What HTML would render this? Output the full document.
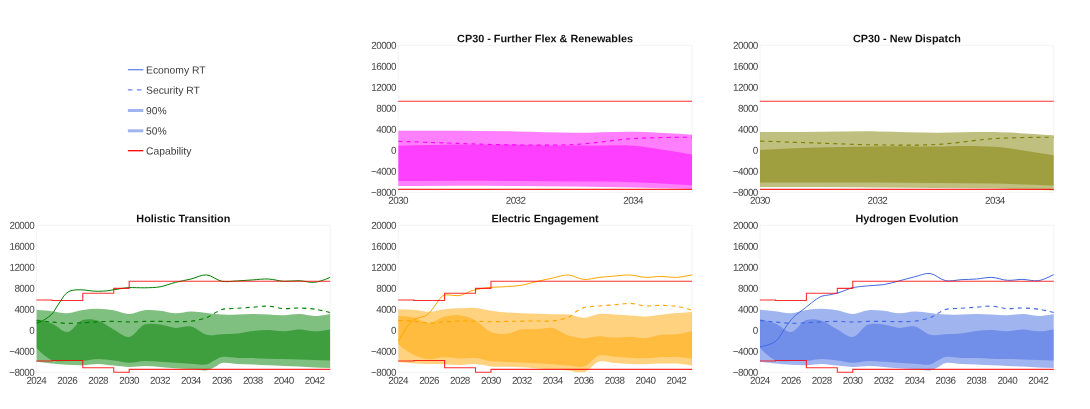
<!DOCTYPE html>
<html lang="en">
<head>
<meta charset="utf-8">
<title>Capability charts</title>
<style>
html,body{margin:0;padding:0;background:#fff;}
body{width:1090px;height:409px;overflow:hidden;}
svg{display:block;font-family:"Liberation Sans", Arial, sans-serif;}
.tk{letter-spacing:-0.55px;}
</style>
</head>
<body>

<svg width="1090" height="409" viewBox="0 0 1090 409">
<rect width="1090" height="409" fill="#fff"/>
<g class="legend">
<path d="M127.9,69.7H143.3" stroke="rgb(65,105,225)" stroke-opacity="0.8" stroke-width="1.3" fill="none"/>
<path d="M127.9,89.9H143.3" stroke="rgb(65,105,225)" stroke-opacity="0.8" stroke-width="1.3" stroke-dasharray="4.6,4.4" fill="none"/>
<path d="M127.9,110.5H143.3" stroke="rgb(65,105,225)" stroke-opacity="0.5" stroke-width="3" fill="none"/>
<path d="M127.9,130.8H143.3" stroke="rgb(65,105,225)" stroke-opacity="0.5" stroke-width="3" fill="none"/>
<path d="M127.9,150.7H143.3" stroke="#ff0000" stroke-width="1.3" fill="none"/>
<text x="146" y="73.45" transform="rotate(0.03 146 73.45)" font-size="10.35" fill="#3c3c3c">Economy RT</text>
<text x="146" y="93.65" transform="rotate(0.03 146 93.65)" font-size="10.35" fill="#3c3c3c">Security RT</text>
<text x="146" y="114.25" transform="rotate(0.03 146 114.25)" font-size="10.35" fill="#3c3c3c">90%</text>
<text x="146" y="134.55" transform="rotate(0.03 146 134.55)" font-size="10.35" fill="#3c3c3c">50%</text>
<text x="146" y="154.45" transform="rotate(0.03 146 154.45)" font-size="10.35" fill="#3c3c3c">Capability</text>
</g>
<g class="chart">
<rect x="398.2" y="45.3" width="293.8" height="147" fill="#fff" stroke="#f3f3f3" stroke-width="1"/>
<clipPath id="cp0"><rect x="398.2" y="45.3" width="293.8" height="147"/></clipPath>
<g clip-path="url(#cp0)">
<path d="M398.2,130.8Q437.37,130.7 456.96,130.8C476.55,130.9 496.13,131.08 515.72,131.4C535.31,131.72 554.89,132.65 574.48,132.7C594.07,132.75 613.66,131.37 633.24,131.7Q652.83,132.03 692,134.7L692,188.9Q652.83,187.9 633.24,187.5C613.65,187.1 594.07,186.73 574.48,186.5C554.89,186.27 535.31,186.22 515.72,186.1C496.13,185.98 476.55,185.8 456.96,185.8Q437.37,185.8 398.2,186.1Z" fill="rgb(255,0,255)" fill-opacity="0.5"/>
<path d="M398.2,145.8Q437.37,144.65 456.96,144.5C476.55,144.35 496.13,144.72 515.72,144.9C535.31,145.08 558.25,145.56 574.48,145.6C585.95,145.63 594.07,145.37 603.86,145.4C613.65,145.43 623.89,145.13 633.24,145.8C641.84,146.41 650.19,147.92 657.92,149C664.78,149.96 671.3,150.9 677.31,151.9Q682.55,152.77 692,154.6L692,185.2Q652.83,182.8 633.24,182.2C613.66,181.6 594.07,181.8 574.48,181.6C554.89,181.4 535.31,181.15 515.72,181C496.13,180.85 476.55,180.7 456.96,180.7Q437.37,180.7 398.2,181Z" fill="rgb(255,0,255)" fill-opacity="0.5"/>
<path d="M398.2,141.3Q440.73,142.86 456.96,143.4C468.43,143.78 476.55,144.05 486.34,144.3C496.13,144.55 504.25,144.82 515.72,144.9C531.95,145.01 554.92,145.55 574.48,144.5C594.09,143.45 613.63,139.82 633.24,138.6Q652.8,137.39 692,137.2" fill="none" stroke="rgb(255,0,255)" stroke-width="1.12" stroke-dasharray="4.15,4"/>
</g>
<path d="M398.2,101.2H692" fill="none" stroke="#ff0000" stroke-width="1.1" stroke-opacity="0.82"/>
<path d="M398.2,189.4H692" fill="none" stroke="#ff0000" stroke-width="1.1" stroke-opacity="0.82"/>
<text x="545.1" y="42.2" transform="rotate(0.03 545.1 42.2)" text-anchor="middle" font-size="10.85" font-weight="bold" fill="#111">CP30 - Further Flex &amp; Renewables</text>
<text class="tk" x="396" y="48.75" transform="rotate(0.03 396 48.75)" text-anchor="end" font-size="9.9" fill="#444444">20000</text>
<text class="tk" x="396" y="69.75" transform="rotate(0.03 396 69.75)" text-anchor="end" font-size="9.9" fill="#444444">16000</text>
<text class="tk" x="396" y="90.75" transform="rotate(0.03 396 90.75)" text-anchor="end" font-size="9.9" fill="#444444">12000</text>
<text class="tk" x="396" y="111.75" transform="rotate(0.03 396 111.75)" text-anchor="end" font-size="9.9" fill="#444444">8000</text>
<text class="tk" x="396" y="132.75" transform="rotate(0.03 396 132.75)" text-anchor="end" font-size="9.9" fill="#444444">4000</text>
<text class="tk" x="396" y="153.75" transform="rotate(0.03 396 153.75)" text-anchor="end" font-size="9.9" fill="#444444">0</text>
<text class="tk" x="396" y="174.75" transform="rotate(0.03 396 174.75)" text-anchor="end" font-size="9.9" fill="#444444">−4000</text>
<text class="tk" x="396" y="195.75" transform="rotate(0.03 396 195.75)" text-anchor="end" font-size="9.9" fill="#444444">−8000</text>
<text class="tk" x="398.1" y="203.75" transform="rotate(0.03 398.1 203.75)" text-anchor="middle" font-size="9.9" fill="#444444">2030</text>
<text class="tk" x="515.62" y="203.75" transform="rotate(0.03 515.62 203.75)" text-anchor="middle" font-size="9.9" fill="#444444">2032</text>
<text class="tk" x="633.14" y="203.75" transform="rotate(0.03 633.14 203.75)" text-anchor="middle" font-size="9.9" fill="#444444">2034</text>
</g>
<g class="chart">
<rect x="760" y="45.3" width="293.8" height="147" fill="#fff" stroke="#f3f3f3" stroke-width="1"/>
<clipPath id="cp1"><rect x="760" y="45.3" width="293.8" height="147"/></clipPath>
<g clip-path="url(#cp1)">
<path d="M760,132.1Q799.17,131.82 818.76,131.7C838.35,131.58 857.93,131.23 877.52,131.4C897.11,131.57 916.69,132.58 936.28,132.7C955.87,132.82 975.46,131.67 995.04,132.1Q1014.63,132.53 1053.8,135.3L1053.8,190.5Q1014.63,188.93 995.04,188.5C975.46,188.07 955.87,188.07 936.28,187.9C916.69,187.73 897.11,187.63 877.52,187.5C857.93,187.37 838.35,187.17 818.76,187.1Q799.17,187.03 760,187.1Z" fill="rgb(128,128,0)" fill-opacity="0.5"/>
<path d="M760,149.9Q779.58,148.82 789.38,148.4C799.17,147.98 807.28,147.69 818.76,147.4C834.98,146.99 857.93,146.55 877.52,146.4C897.11,146.25 920.05,146.62 936.28,146.5C947.75,146.41 955.87,145.95 965.66,146C975.45,146.05 985.81,146.11 995.04,146.8C1003.33,147.42 1011.15,148.66 1018.54,149.7C1025.17,150.64 1031.29,151.76 1037.35,152.7Q1043.01,153.58 1053.8,155.2L1053.8,185.6Q1014.63,184.03 995.04,183.6C975.46,183.17 955.87,183.17 936.28,183C916.69,182.83 897.11,182.67 877.52,182.6C857.93,182.53 838.35,182.6 818.76,182.6Q799.17,182.6 760,182.6Z" fill="rgb(128,128,0)" fill-opacity="0.5"/>
<path d="M760,141.1Q799.17,142.47 818.76,143.1C838.35,143.73 857.93,144.67 877.52,144.9C897.1,145.13 916.72,145.55 936.28,144.5C955.89,143.45 975.43,139.82 995.04,138.6Q1014.6,137.39 1053.8,137.2" fill="none" stroke="rgb(128,128,0)" stroke-width="1.12" stroke-dasharray="4.15,4"/>
</g>
<path d="M760,101.2H1053.8" fill="none" stroke="#ff0000" stroke-width="1.1" stroke-opacity="0.82"/>
<path d="M760,189.4H1053.8" fill="none" stroke="#ff0000" stroke-width="1.1" stroke-opacity="0.82"/>
<text x="906.9" y="42.2" transform="rotate(0.03 906.9 42.2)" text-anchor="middle" font-size="10.85" font-weight="bold" fill="#111">CP30 - New Dispatch</text>
<text class="tk" x="757.8" y="48.75" transform="rotate(0.03 757.8 48.75)" text-anchor="end" font-size="9.9" fill="#444444">20000</text>
<text class="tk" x="757.8" y="69.75" transform="rotate(0.03 757.8 69.75)" text-anchor="end" font-size="9.9" fill="#444444">16000</text>
<text class="tk" x="757.8" y="90.75" transform="rotate(0.03 757.8 90.75)" text-anchor="end" font-size="9.9" fill="#444444">12000</text>
<text class="tk" x="757.8" y="111.75" transform="rotate(0.03 757.8 111.75)" text-anchor="end" font-size="9.9" fill="#444444">8000</text>
<text class="tk" x="757.8" y="132.75" transform="rotate(0.03 757.8 132.75)" text-anchor="end" font-size="9.9" fill="#444444">4000</text>
<text class="tk" x="757.8" y="153.75" transform="rotate(0.03 757.8 153.75)" text-anchor="end" font-size="9.9" fill="#444444">0</text>
<text class="tk" x="757.8" y="174.75" transform="rotate(0.03 757.8 174.75)" text-anchor="end" font-size="9.9" fill="#444444">−4000</text>
<text class="tk" x="757.8" y="195.75" transform="rotate(0.03 757.8 195.75)" text-anchor="end" font-size="9.9" fill="#444444">−8000</text>
<text class="tk" x="759.9" y="203.75" transform="rotate(0.03 759.9 203.75)" text-anchor="middle" font-size="9.9" fill="#444444">2030</text>
<text class="tk" x="877.42" y="203.75" transform="rotate(0.03 877.42 203.75)" text-anchor="middle" font-size="9.9" fill="#444444">2032</text>
<text class="tk" x="994.94" y="203.75" transform="rotate(0.03 994.94 203.75)" text-anchor="middle" font-size="9.9" fill="#444444">2034</text>
</g>
<g class="chart">
<rect x="36.4" y="225.3" width="293.8" height="147" fill="#fff" stroke="#f3f3f3" stroke-width="1"/>
<clipPath id="cp2"><rect x="36.4" y="225.3" width="293.8" height="147"/></clipPath>
<g clip-path="url(#cp2)">
<path d="M36.4,309.8Q46.71,310.63 51.86,311.2C57.02,311.77 62.19,313.41 67.33,313.2C72.5,312.99 77.61,310.63 82.79,309.9C87.92,309.17 93.1,308.75 98.25,308.8C103.41,308.85 108.59,309.36 113.72,310.2C118.9,311.05 124.02,313.9 129.18,313.9C134.33,313.9 139.45,310.71 144.64,310.2C149.76,309.7 154.97,310.29 160.11,310.8C165.28,311.32 170.41,313.2 175.57,313.3C180.72,313.4 185.87,311.47 191.03,311.4C196.18,311.33 201.34,312.37 206.49,312.9C211.65,313.43 216.8,314.33 221.96,314.6C227.1,314.87 232.27,314.6 237.42,314.5C242.58,314.4 247.73,313.98 252.88,314C258.04,314.02 263.19,314.38 268.35,314.6C273.5,314.82 278.66,315.38 283.81,315.3C288.97,315.22 294.13,313.98 299.27,314.1C304.43,314.22 309.58,316.03 314.74,316Q319.89,315.97 330.2,313.9L330.2,367.9Q319.89,367.82 314.74,367.6C309.58,367.38 304.43,366.88 299.27,366.6C294.12,366.32 288.97,366.12 283.81,365.9C278.66,365.68 273.5,365.55 268.35,365.3C263.19,365.05 258.04,364.63 252.88,364.4C247.73,364.17 242.57,364.13 237.42,363.9C232.27,363.67 226.12,362.05 221.96,363C218.81,363.72 216.84,366.05 214.23,367.3C211.69,368.51 209.58,369.94 206.49,370.4C202.29,371.03 196.19,369.47 191.03,369.1C185.88,368.73 180.72,368.57 175.57,368.2C170.41,367.83 165.26,367.28 160.11,366.9C154.95,366.52 149.8,365.9 144.64,365.9C139.49,365.9 134.33,366.97 129.18,366.9C124.02,366.83 118.87,366 113.72,365.5C108.56,365 103.41,363.95 98.25,363.9C93.1,363.85 87.95,365.05 82.79,365.2C77.64,365.35 72.48,365.1 67.33,364.8C62.17,364.5 57.02,363.92 51.86,363.4Q46.71,362.88 36.4,361.7Z" fill="rgb(0,128,0)" fill-opacity="0.5"/>
<path d="M36.4,319.2Q46.82,321.53 51.86,323.6C57.14,325.77 62.3,332.5 67.33,332.1C72.62,331.68 77.29,321.86 82.79,320.1C87.67,318.53 93.27,319.26 98.25,320.7C103.6,322.24 108.51,326.86 113.72,329.6C118.82,332.29 124.2,337.57 129.18,337C134.53,336.38 139.13,326.56 144.64,324.6C149.51,322.87 154.98,323.96 160.11,324.5C165.29,325.05 170.39,327.56 175.57,327.9C180.7,328.24 186.02,325.58 191.03,326.6C196.35,327.69 201.17,333.59 206.49,334.8C211.5,335.94 216.8,334.4 221.96,334.2C227.11,334 232.28,334.13 237.42,333.6C242.59,333.07 247.71,331.6 252.88,331C258.02,330.4 263.19,329.95 268.35,330C273.5,330.05 278.66,331.4 283.81,331.3C288.97,331.2 294.12,329.4 299.27,329.4C304.43,329.4 309.58,331.3 314.74,331.3Q319.89,331.3 330.2,329.4L330.2,360.5Q319.89,360.18 314.74,360C309.58,359.82 304.43,359.55 299.27,359.4C294.12,359.25 288.96,359.22 283.81,359.1C278.66,358.98 273.5,358.87 268.35,358.7C263.19,358.53 258.04,358.23 252.88,358.1C247.73,357.97 242.57,358.07 237.42,357.9C232.27,357.73 226.15,356.33 221.96,357.1C218.86,357.67 216.79,359.29 214.23,360.5C211.63,361.72 209.62,363.73 206.49,364.4C202.32,365.29 196.18,363.98 191.03,363.7C185.88,363.42 180.72,363.03 175.57,362.7C170.41,362.37 165.26,361.98 160.11,361.7C154.95,361.42 149.79,360.83 144.64,361C139.48,361.17 134.33,362.78 129.18,362.7C124.02,362.62 118.88,361.12 113.72,360.5C108.57,359.88 103.4,358.95 98.25,359C93.1,359.05 87.95,360.47 82.79,360.8C77.64,361.13 72.48,361.1 67.33,361C62.17,360.9 56.74,362.04 51.86,360.2Q46.36,358.13 36.4,348Z" fill="rgb(0,128,0)" fill-opacity="0.5"/>
<path d="M36.4,320.5Q46.71,321.53 51.86,322C57.02,322.47 62.17,323.17 67.33,323.3C72.48,323.43 77.64,323.05 82.79,322.8C87.95,322.55 93.1,322.03 98.25,321.8C103.4,321.57 108.56,321.37 113.72,321.4C118.87,321.43 124.02,322 129.18,322C134.33,322 139.49,321.5 144.64,321.4C149.8,321.3 154.95,321.37 160.11,321.4C165.26,321.43 170.41,321.63 175.57,321.6C180.72,321.57 185.91,321.84 191.03,321.2C196.22,320.55 202.32,319.3 206.49,317.7C209.62,316.51 211.64,314.77 214.23,313.4C216.79,312.04 218.84,310.37 221.96,309.5C226.14,308.33 232.27,308.68 237.42,308.3C242.57,307.92 247.73,307.57 252.88,307.2C258.04,306.83 263.21,305.87 268.35,306.1C273.52,306.33 278.64,308.29 283.81,308.6C288.95,308.91 294.12,307.9 299.27,308C304.43,308.1 309.61,308.46 314.74,309.2Q319.92,309.95 330.2,312.5" fill="none" stroke="rgb(0,128,0)" stroke-width="1.12" stroke-dasharray="4.15,4"/>
<path d="M36.4,323.3Q40.67,321.77 42.7,320.7C44.78,319.61 46.9,318.19 48.7,316.8C50.34,315.54 51.81,314.36 53.1,312.8C54.47,311.13 55.37,308.93 56.6,307C57.85,305.03 59.23,303.07 60.55,301.1C61.87,299.13 63.1,296.81 64.5,295.2C65.67,293.85 66.87,292.71 68.2,291.9C69.42,291.16 70.64,290.75 72.1,290.4C73.84,289.98 76.02,289.87 78,289.8C79.99,289.73 81.91,289.84 84,290C86.29,290.18 88.79,290.68 91.2,290.9C93.62,291.12 96.03,291.3 98.5,291.3C101.06,291.3 103.72,291.17 106.3,290.9C108.86,290.63 111.33,290.11 113.9,289.7C116.56,289.28 119.38,288.76 122,288.4C124.46,288.07 126.33,287.74 129.18,287.6C133.35,287.4 139.49,287.93 144.64,287.8C149.8,287.67 155,287.7 160.11,286.8C165.31,285.89 170.39,283.6 175.57,282.3C180.7,281.01 185.89,280.23 191.03,279C196.2,277.76 201.4,274.56 206.49,274.9C211.71,275.25 216.7,280.33 221.96,281.3C227.01,282.24 232.27,281.13 237.42,280.9C242.58,280.67 247.73,280.22 252.88,279.9C258.04,279.58 263.2,278.77 268.35,279C273.51,279.23 278.64,281.02 283.81,281.3C288.95,281.58 294.13,280.53 299.27,280.7C304.43,280.87 309.64,282.82 314.74,282.3Q319.95,281.77 330.2,277.4" fill="none" stroke="rgb(0,128,0)" stroke-width="1"/>
</g>
<path d="M36.4,300H51.86V300.5H82.79V293.2H113.72V288.4H129.18V281.2H330.2" fill="none" stroke="#ff0000" stroke-width="1.1" stroke-opacity="0.82"/>
<path d="M36.4,361H51.86V360.5H82.79V367.7H113.72V372.3H129.18V369.4H330.2" fill="none" stroke="#ff0000" stroke-width="1.1" stroke-opacity="0.82"/>
<text x="183.3" y="222.2" transform="rotate(0.03 183.3 222.2)" text-anchor="middle" font-size="10.85" font-weight="bold" fill="#111">Holistic Transition</text>
<text class="tk" x="34.2" y="228.75" transform="rotate(0.03 34.2 228.75)" text-anchor="end" font-size="9.9" fill="#444444">20000</text>
<text class="tk" x="34.2" y="249.75" transform="rotate(0.03 34.2 249.75)" text-anchor="end" font-size="9.9" fill="#444444">16000</text>
<text class="tk" x="34.2" y="270.75" transform="rotate(0.03 34.2 270.75)" text-anchor="end" font-size="9.9" fill="#444444">12000</text>
<text class="tk" x="34.2" y="291.75" transform="rotate(0.03 34.2 291.75)" text-anchor="end" font-size="9.9" fill="#444444">8000</text>
<text class="tk" x="34.2" y="312.75" transform="rotate(0.03 34.2 312.75)" text-anchor="end" font-size="9.9" fill="#444444">4000</text>
<text class="tk" x="34.2" y="333.75" transform="rotate(0.03 34.2 333.75)" text-anchor="end" font-size="9.9" fill="#444444">0</text>
<text class="tk" x="34.2" y="354.75" transform="rotate(0.03 34.2 354.75)" text-anchor="end" font-size="9.9" fill="#444444">−4000</text>
<text class="tk" x="34.2" y="375.75" transform="rotate(0.03 34.2 375.75)" text-anchor="end" font-size="9.9" fill="#444444">−8000</text>
<text class="tk" x="36.3" y="383.75" transform="rotate(0.03 36.3 383.75)" text-anchor="middle" font-size="9.9" fill="#444444">2024</text>
<text class="tk" x="67.23" y="383.75" transform="rotate(0.03 67.23 383.75)" text-anchor="middle" font-size="9.9" fill="#444444">2026</text>
<text class="tk" x="98.15" y="383.75" transform="rotate(0.03 98.15 383.75)" text-anchor="middle" font-size="9.9" fill="#444444">2028</text>
<text class="tk" x="129.08" y="383.75" transform="rotate(0.03 129.08 383.75)" text-anchor="middle" font-size="9.9" fill="#444444">2030</text>
<text class="tk" x="160.01" y="383.75" transform="rotate(0.03 160.01 383.75)" text-anchor="middle" font-size="9.9" fill="#444444">2032</text>
<text class="tk" x="190.93" y="383.75" transform="rotate(0.03 190.93 383.75)" text-anchor="middle" font-size="9.9" fill="#444444">2034</text>
<text class="tk" x="221.86" y="383.75" transform="rotate(0.03 221.86 383.75)" text-anchor="middle" font-size="9.9" fill="#444444">2036</text>
<text class="tk" x="252.78" y="383.75" transform="rotate(0.03 252.78 383.75)" text-anchor="middle" font-size="9.9" fill="#444444">2038</text>
<text class="tk" x="283.71" y="383.75" transform="rotate(0.03 283.71 383.75)" text-anchor="middle" font-size="9.9" fill="#444444">2040</text>
<text class="tk" x="314.64" y="383.75" transform="rotate(0.03 314.64 383.75)" text-anchor="middle" font-size="9.9" fill="#444444">2042</text>
</g>
<g class="chart">
<rect x="398.2" y="225.3" width="293.8" height="147" fill="#fff" stroke="#f3f3f3" stroke-width="1"/>
<clipPath id="cp3"><rect x="398.2" y="225.3" width="293.8" height="147"/></clipPath>
<g clip-path="url(#cp3)">
<path d="M398.2,309.2Q408.52,309.38 413.66,309.8C418.83,310.22 423.98,311.8 429.13,311.7C434.29,311.6 439.42,309.78 444.59,309.2C449.73,308.62 454.9,308.4 460.05,308.2C465.2,308 470.38,307.57 475.52,308C480.69,308.43 485.81,310.05 490.98,310.8C496.12,311.55 501.28,312.1 506.44,312.5C511.59,312.9 516.75,313 521.91,313.2C527.06,313.4 532.21,313.53 537.37,313.7C542.52,313.87 547.68,314.05 552.83,314.2C557.99,314.35 563.17,314.02 568.29,314.6C573.47,315.18 578.62,317.81 583.76,317.7C588.92,317.59 594.03,314.41 599.22,313.9C604.34,313.4 609.53,314.33 614.68,314.6C619.84,314.87 624.99,315.2 630.15,315.5C635.3,315.8 640.46,316.53 645.61,316.4C650.77,316.27 655.92,315.25 661.07,314.7C666.23,314.15 671.38,313.57 676.54,313.1Q681.69,312.63 692,311.9L692,365.6Q681.7,363.93 676.54,363.6C671.39,363.27 666.23,363.5 661.07,363.6C655.92,363.7 650.77,364.13 645.61,364.2C640.46,364.27 635.3,364.2 630.15,364C624.99,363.8 619.84,363.4 614.68,363C609.53,362.6 604.14,360.28 599.22,361.6C593.79,363.06 589.19,371.16 583.76,372.5C578.83,373.72 573.46,371.05 568.29,370.5C563.15,369.95 557.99,369.55 552.83,369.2C547.68,368.85 542.52,368.72 537.37,368.4C532.21,368.08 527.06,367.57 521.91,367.3C516.75,367.03 511.6,366.93 506.44,366.8C501.29,366.67 496.12,366.95 490.98,366.5C485.81,366.05 480.68,364.33 475.52,364.1C470.37,363.87 465.21,365.07 460.05,365.1C454.9,365.13 449.75,364.47 444.59,364.3C439.44,364.13 434.28,364.27 429.13,364.1C423.97,363.93 418.81,363.67 413.66,363.3Q408.51,362.93 398.2,361.9Z" fill="rgb(255,165,0)" fill-opacity="0.5"/>
<path d="M398.2,315.7Q408.57,316.4 413.66,317.6C418.89,318.83 424,323.24 429.13,323.1C434.31,322.95 439.33,317.89 444.59,316.6C449.65,315.36 454.96,314.7 460.05,315.3C465.27,315.92 470.56,317.83 475.52,320.4C480.91,323.2 485.52,329.71 490.98,331.9C495.89,333.87 501.33,334.23 506.44,333.8C511.64,333.37 516.7,329.98 521.91,329.2C527.01,328.44 532.22,329.3 537.37,329.1C542.53,328.9 547.81,327.02 552.83,328C558.13,329.03 563.01,333.9 568.29,335.6C573.33,337.22 578.6,338.1 583.76,338.2C588.91,338.3 594.06,336.3 599.22,336.2C604.37,336.1 609.53,337.5 614.68,337.6C619.84,337.7 625,336.7 630.15,336.8C635.31,336.9 640.48,338.52 645.61,338.2C650.79,337.87 655.89,335.47 661.07,334.8C666.2,334.14 671.41,334.79 676.54,334.2Q681.71,333.6 692,331.2L692,358.7Q681.7,357.37 676.54,357.1C671.39,356.83 666.22,356.9 661.07,357.1C655.92,357.3 650.77,358.2 645.61,358.3C640.46,358.4 635.3,357.95 630.15,357.7C624.99,357.45 619.84,357.18 614.68,356.8C609.53,356.42 604.14,354.06 599.22,355.4C593.78,356.88 589.21,364.92 583.76,366.5C578.84,367.93 573.45,365.97 568.29,365.6C563.14,365.23 557.99,364.68 552.83,364.3C547.68,363.92 542.52,363.62 537.37,363.3C532.21,362.98 527.06,362.63 521.91,362.4C516.75,362.17 511.6,362.1 506.44,361.9C501.29,361.7 496.11,361.84 490.98,361.2C485.8,360.55 480.7,358.45 475.52,358C470.39,357.56 465.2,358.62 460.05,358.5C454.9,358.38 449.74,357.18 444.59,357.3C439.43,357.42 434.25,359.57 429.13,359.2C423.94,358.83 418.63,357.31 413.66,355Q408.29,352.5 398.2,344.3Z" fill="rgb(255,165,0)" fill-opacity="0.5"/>
<path d="M398.2,320.5Q408.52,320.67 413.66,321.1C418.83,321.53 423.97,322.97 429.13,323.1C434.27,323.23 439.43,322.23 444.59,321.9C449.74,321.57 454.9,321.22 460.05,321.1C465.21,320.98 470.36,321.1 475.52,321.2C480.67,321.3 485.82,321.67 490.98,321.7C496.13,321.73 501.29,321.5 506.44,321.4C511.6,321.3 516.75,321.17 521.91,321.1C527.06,321.03 532.21,321.03 537.37,321C542.52,320.97 547.71,321.49 552.83,320.9C558.02,320.3 564.17,319.26 568.29,317.4C571.49,315.95 573.39,313.46 576.03,311.8C578.55,310.21 580.62,308.57 583.76,307.6C587.93,306.31 594.06,306.47 599.22,306C604.37,305.53 609.53,305.23 614.68,304.8C619.84,304.37 625,303.22 630.15,303.4C635.31,303.58 640.44,305.59 645.61,305.9C650.75,306.21 655.92,305.23 661.07,305.3C666.23,305.37 671.42,305.5 676.54,306.3Q681.73,307.12 692,310.2" fill="none" stroke="rgb(255,165,0)" stroke-width="1.12" stroke-dasharray="4.15,4"/>
<path d="M398.2,341.5Q398.7,340.67 399.1,340C399.92,338.62 401.46,335.9 402.8,333.7C404.3,331.23 405.96,328.19 407.7,325.9C409.25,323.86 410.84,321.83 412.6,320.5C414.11,319.36 415.76,318.72 417.4,318.1C418.99,317.5 420.77,317.28 422.3,316.8C423.68,316.37 424.96,316.1 426.2,315.4C427.57,314.62 428.87,313.5 430.1,312.2C431.52,310.7 432.72,308.71 434.1,306.8C435.64,304.67 437.47,301.87 438.9,300C439.96,298.62 440.75,297.36 441.8,296.5C442.68,295.78 443.5,295.28 444.6,295C445.95,294.66 447.56,294.93 449.4,295C451.89,295.1 455.58,295.94 458.2,295.7C460.38,295.5 462.09,294.81 464.1,294.1C466.32,293.32 468.79,291.86 470.9,291.1C472.64,290.47 473.96,290.14 475.8,289.7C478.11,289.15 481.16,288.59 483.7,288.2C486.05,287.84 487.75,287.63 490.5,287.4C494.69,287.05 501.17,286.97 506.44,286.6C511.64,286.23 516.78,286.07 521.91,285.2C527.09,284.32 532.2,282.5 537.37,281.3C542.51,280.1 547.67,279.05 552.83,278C557.98,276.95 563.17,274.78 568.29,275C573.48,275.22 578.56,279.01 583.76,279.4C588.87,279.78 594.06,277.97 599.22,277.4C604.37,276.83 609.53,276.4 614.68,276C619.84,275.6 625.01,274.77 630.15,275C635.31,275.23 640.44,277.17 645.61,277.4C650.75,277.63 655.92,276.4 661.07,276.4C666.23,276.4 671.4,277.65 676.54,277.4Q681.71,277.15 692,274.9" fill="none" stroke="rgb(255,165,0)" stroke-width="1"/>
</g>
<path d="M398.2,300H413.66V300.5H444.59V293.2H475.52V288.4H490.98V281.2H692" fill="none" stroke="#ff0000" stroke-width="1.1" stroke-opacity="0.82"/>
<path d="M398.2,361H413.66V360.5H444.59V367.7H475.52V372.3H490.98V369.4H692" fill="none" stroke="#ff0000" stroke-width="1.1" stroke-opacity="0.82"/>
<text x="545.1" y="222.2" transform="rotate(0.03 545.1 222.2)" text-anchor="middle" font-size="10.85" font-weight="bold" fill="#111">Electric Engagement</text>
<text class="tk" x="396" y="228.75" transform="rotate(0.03 396 228.75)" text-anchor="end" font-size="9.9" fill="#444444">20000</text>
<text class="tk" x="396" y="249.75" transform="rotate(0.03 396 249.75)" text-anchor="end" font-size="9.9" fill="#444444">16000</text>
<text class="tk" x="396" y="270.75" transform="rotate(0.03 396 270.75)" text-anchor="end" font-size="9.9" fill="#444444">12000</text>
<text class="tk" x="396" y="291.75" transform="rotate(0.03 396 291.75)" text-anchor="end" font-size="9.9" fill="#444444">8000</text>
<text class="tk" x="396" y="312.75" transform="rotate(0.03 396 312.75)" text-anchor="end" font-size="9.9" fill="#444444">4000</text>
<text class="tk" x="396" y="333.75" transform="rotate(0.03 396 333.75)" text-anchor="end" font-size="9.9" fill="#444444">0</text>
<text class="tk" x="396" y="354.75" transform="rotate(0.03 396 354.75)" text-anchor="end" font-size="9.9" fill="#444444">−4000</text>
<text class="tk" x="396" y="375.75" transform="rotate(0.03 396 375.75)" text-anchor="end" font-size="9.9" fill="#444444">−8000</text>
<text class="tk" x="398.1" y="383.75" transform="rotate(0.03 398.1 383.75)" text-anchor="middle" font-size="9.9" fill="#444444">2024</text>
<text class="tk" x="429.03" y="383.75" transform="rotate(0.03 429.03 383.75)" text-anchor="middle" font-size="9.9" fill="#444444">2026</text>
<text class="tk" x="459.95" y="383.75" transform="rotate(0.03 459.95 383.75)" text-anchor="middle" font-size="9.9" fill="#444444">2028</text>
<text class="tk" x="490.88" y="383.75" transform="rotate(0.03 490.88 383.75)" text-anchor="middle" font-size="9.9" fill="#444444">2030</text>
<text class="tk" x="521.81" y="383.75" transform="rotate(0.03 521.81 383.75)" text-anchor="middle" font-size="9.9" fill="#444444">2032</text>
<text class="tk" x="552.73" y="383.75" transform="rotate(0.03 552.73 383.75)" text-anchor="middle" font-size="9.9" fill="#444444">2034</text>
<text class="tk" x="583.66" y="383.75" transform="rotate(0.03 583.66 383.75)" text-anchor="middle" font-size="9.9" fill="#444444">2036</text>
<text class="tk" x="614.58" y="383.75" transform="rotate(0.03 614.58 383.75)" text-anchor="middle" font-size="9.9" fill="#444444">2038</text>
<text class="tk" x="645.51" y="383.75" transform="rotate(0.03 645.51 383.75)" text-anchor="middle" font-size="9.9" fill="#444444">2040</text>
<text class="tk" x="676.44" y="383.75" transform="rotate(0.03 676.44 383.75)" text-anchor="middle" font-size="9.9" fill="#444444">2042</text>
</g>
<g class="chart">
<rect x="760" y="225.3" width="293.8" height="147" fill="#fff" stroke="#f3f3f3" stroke-width="1"/>
<clipPath id="cp4"><rect x="760" y="225.3" width="293.8" height="147"/></clipPath>
<g clip-path="url(#cp4)">
<path d="M760,309.8Q770.31,310.63 775.46,311.2C780.62,311.77 785.79,313.41 790.93,313.2C796.1,312.99 801.21,310.63 806.39,309.9C811.52,309.17 816.7,308.75 821.85,308.8C827.01,308.85 832.19,309.36 837.32,310.2C842.5,311.05 847.62,313.9 852.78,313.9C857.93,313.9 863.05,310.71 868.24,310.2C873.36,309.7 878.57,310.29 883.71,310.8C888.88,311.32 894.01,313.2 899.17,313.3C904.32,313.4 909.47,311.47 914.63,311.4C919.78,311.33 924.94,312.37 930.09,312.9C935.25,313.43 940.4,314.33 945.56,314.6C950.7,314.87 955.87,314.6 961.02,314.5C966.18,314.4 971.33,313.98 976.48,314C981.64,314.02 986.79,314.38 991.95,314.6C997.1,314.82 1002.26,315.38 1007.41,315.3C1012.57,315.22 1017.73,313.98 1022.87,314.1C1028.03,314.22 1033.18,316.03 1038.34,316Q1043.49,315.97 1053.8,313.9L1053.8,367.9Q1043.49,367.82 1038.34,367.6C1033.18,367.38 1028.03,366.88 1022.87,366.6C1017.72,366.32 1012.57,366.12 1007.41,365.9C1002.26,365.68 997.1,365.55 991.95,365.3C986.79,365.05 981.64,364.63 976.48,364.4C971.33,364.17 966.17,364.13 961.02,363.9C955.87,363.67 949.72,362.05 945.56,363C942.41,363.72 940.44,366.05 937.83,367.3C935.29,368.51 933.18,369.94 930.09,370.4C925.89,371.03 919.79,369.47 914.63,369.1C909.48,368.73 904.32,368.57 899.17,368.2C894.01,367.83 888.86,367.28 883.71,366.9C878.55,366.52 873.4,365.9 868.24,365.9C863.09,365.9 857.93,366.97 852.78,366.9C847.62,366.83 842.47,366 837.32,365.5C832.16,365 827.01,363.95 821.85,363.9C816.7,363.85 811.55,365.05 806.39,365.2C801.24,365.35 796.08,365.1 790.93,364.8C785.77,364.5 780.62,363.92 775.46,363.4Q770.31,362.88 760,361.7Z" fill="rgb(65,105,225)" fill-opacity="0.5"/>
<path d="M760,319.2Q770.42,321.53 775.46,323.6C780.74,325.77 785.9,332.5 790.93,332.1C796.22,331.68 800.89,321.86 806.39,320.1C811.27,318.53 816.87,319.26 821.85,320.7C827.2,322.24 832.11,326.86 837.32,329.6C842.42,332.29 847.8,337.57 852.78,337C858.13,336.38 862.73,326.56 868.24,324.6C873.11,322.87 878.58,323.96 883.71,324.5C888.89,325.05 893.99,327.56 899.17,327.9C904.3,328.24 909.62,325.58 914.63,326.6C919.95,327.69 924.77,333.59 930.09,334.8C935.1,335.94 940.4,334.4 945.56,334.2C950.71,334 955.88,334.13 961.02,333.6C966.19,333.07 971.31,331.6 976.48,331C981.62,330.4 986.79,329.95 991.95,330C997.1,330.05 1002.26,331.4 1007.41,331.3C1012.57,331.2 1017.72,329.4 1022.87,329.4C1028.03,329.4 1033.18,331.3 1038.34,331.3Q1043.49,331.3 1053.8,329.4L1053.8,360.5Q1043.49,360.18 1038.34,360C1033.18,359.82 1028.03,359.55 1022.87,359.4C1017.72,359.25 1012.56,359.22 1007.41,359.1C1002.26,358.98 997.1,358.87 991.95,358.7C986.79,358.53 981.64,358.23 976.48,358.1C971.33,357.97 966.17,358.07 961.02,357.9C955.87,357.73 949.75,356.33 945.56,357.1C942.46,357.67 940.39,359.29 937.83,360.5C935.23,361.72 933.22,363.73 930.09,364.4C925.92,365.29 919.78,363.98 914.63,363.7C909.48,363.42 904.32,363.03 899.17,362.7C894.01,362.37 888.86,361.98 883.71,361.7C878.55,361.42 873.39,360.83 868.24,361C863.08,361.17 857.93,362.78 852.78,362.7C847.62,362.62 842.48,361.12 837.32,360.5C832.17,359.88 827,358.95 821.85,359C816.7,359.05 811.55,360.47 806.39,360.8C801.24,361.13 796.08,361.1 790.93,361C785.77,360.9 780.34,362.04 775.46,360.2Q769.96,358.13 760,348Z" fill="rgb(65,105,225)" fill-opacity="0.5"/>
<path d="M760,320.5Q770.31,321.53 775.46,322C780.62,322.47 785.77,323.17 790.93,323.3C796.08,323.43 801.24,323.05 806.39,322.8C811.55,322.55 816.7,322.03 821.85,321.8C827,321.57 832.16,321.37 837.32,321.4C842.47,321.43 847.62,322 852.78,322C857.93,322 863.09,321.5 868.24,321.4C873.4,321.3 878.55,321.37 883.71,321.4C888.86,321.43 894.01,321.63 899.17,321.6C904.32,321.57 909.51,321.84 914.63,321.2C919.82,320.55 925.92,319.3 930.09,317.7C933.22,316.51 935.24,314.77 937.83,313.4C940.39,312.04 942.44,310.37 945.56,309.5C949.74,308.33 955.87,308.68 961.02,308.3C966.17,307.92 971.33,307.57 976.48,307.2C981.64,306.83 986.81,305.87 991.95,306.1C997.12,306.33 1002.24,308.29 1007.41,308.6C1012.55,308.91 1017.72,307.9 1022.87,308C1028.03,308.1 1033.21,308.46 1038.34,309.2Q1043.52,309.95 1053.8,312.5" fill="none" stroke="rgb(65,105,225)" stroke-width="1.12" stroke-dasharray="4.15,4"/>
<path d="M760,346.9Q763.2,346.31 764.8,345.9C766.43,345.48 768.09,345.04 769.7,344.4C771.36,343.74 773.13,343.02 774.6,342C776.06,340.99 777.35,339.63 778.5,338.3C779.61,337.02 780.46,335.64 781.4,334.2C782.39,332.68 783.31,330.96 784.3,329.4C785.27,327.86 786.29,326.33 787.3,324.9C788.26,323.54 789.28,322.18 790.2,321C791,319.98 791.59,319.16 792.5,318.2C793.6,317.04 794.93,315.82 796.4,314.6C798.13,313.16 800.28,311.76 802.3,310.2C804.5,308.51 807.02,306.45 809.1,304.8C810.87,303.39 812.34,302.12 814,300.9C815.61,299.72 817.32,298.47 818.9,297.6C820.24,296.86 821.33,296.32 822.8,295.9C824.54,295.4 826.53,295.41 828.7,295C831.39,294.5 835,293.78 837.7,293C839.98,292.34 841.86,291.56 843.9,290.8C845.9,290.06 848.16,289.07 849.8,288.5C850.95,288.1 851.38,287.89 852.78,287.6C855.91,286.95 863.08,286.3 868.24,285.8C873.39,285.3 878.58,285.41 883.71,284.6C888.89,283.78 894.02,282.2 899.17,280.9C904.33,279.6 909.46,278.04 914.63,276.8C919.77,275.57 925.03,272.93 930.09,273.5C935.35,274.1 940.27,279.71 945.56,280.7C950.59,281.65 955.87,279.98 961.02,279.7C966.17,279.42 971.34,279.38 976.48,279C981.64,278.62 986.81,277.19 991.95,277.4C997.12,277.61 1002.24,279.97 1007.41,280.3C1012.54,280.63 1017.72,279.33 1022.87,279.4C1028.03,279.47 1033.27,281.46 1038.34,280.7Q1043.59,279.91 1053.8,274.5" fill="none" stroke="rgb(65,105,225)" stroke-width="1"/>
</g>
<path d="M760,300H775.46V300.5H806.39V293.2H837.32V288.4H852.78V281.2H1053.8" fill="none" stroke="#ff0000" stroke-width="1.1" stroke-opacity="0.82"/>
<path d="M760,361H775.46V360.5H806.39V367.7H837.32V372.3H852.78V369.4H1053.8" fill="none" stroke="#ff0000" stroke-width="1.1" stroke-opacity="0.82"/>
<text x="906.9" y="222.2" transform="rotate(0.03 906.9 222.2)" text-anchor="middle" font-size="10.85" font-weight="bold" fill="#111">Hydrogen Evolution</text>
<text class="tk" x="757.8" y="228.75" transform="rotate(0.03 757.8 228.75)" text-anchor="end" font-size="9.9" fill="#444444">20000</text>
<text class="tk" x="757.8" y="249.75" transform="rotate(0.03 757.8 249.75)" text-anchor="end" font-size="9.9" fill="#444444">16000</text>
<text class="tk" x="757.8" y="270.75" transform="rotate(0.03 757.8 270.75)" text-anchor="end" font-size="9.9" fill="#444444">12000</text>
<text class="tk" x="757.8" y="291.75" transform="rotate(0.03 757.8 291.75)" text-anchor="end" font-size="9.9" fill="#444444">8000</text>
<text class="tk" x="757.8" y="312.75" transform="rotate(0.03 757.8 312.75)" text-anchor="end" font-size="9.9" fill="#444444">4000</text>
<text class="tk" x="757.8" y="333.75" transform="rotate(0.03 757.8 333.75)" text-anchor="end" font-size="9.9" fill="#444444">0</text>
<text class="tk" x="757.8" y="354.75" transform="rotate(0.03 757.8 354.75)" text-anchor="end" font-size="9.9" fill="#444444">−4000</text>
<text class="tk" x="757.8" y="375.75" transform="rotate(0.03 757.8 375.75)" text-anchor="end" font-size="9.9" fill="#444444">−8000</text>
<text class="tk" x="759.9" y="383.75" transform="rotate(0.03 759.9 383.75)" text-anchor="middle" font-size="9.9" fill="#444444">2024</text>
<text class="tk" x="790.83" y="383.75" transform="rotate(0.03 790.83 383.75)" text-anchor="middle" font-size="9.9" fill="#444444">2026</text>
<text class="tk" x="821.75" y="383.75" transform="rotate(0.03 821.75 383.75)" text-anchor="middle" font-size="9.9" fill="#444444">2028</text>
<text class="tk" x="852.68" y="383.75" transform="rotate(0.03 852.68 383.75)" text-anchor="middle" font-size="9.9" fill="#444444">2030</text>
<text class="tk" x="883.61" y="383.75" transform="rotate(0.03 883.61 383.75)" text-anchor="middle" font-size="9.9" fill="#444444">2032</text>
<text class="tk" x="914.53" y="383.75" transform="rotate(0.03 914.53 383.75)" text-anchor="middle" font-size="9.9" fill="#444444">2034</text>
<text class="tk" x="945.46" y="383.75" transform="rotate(0.03 945.46 383.75)" text-anchor="middle" font-size="9.9" fill="#444444">2036</text>
<text class="tk" x="976.38" y="383.75" transform="rotate(0.03 976.38 383.75)" text-anchor="middle" font-size="9.9" fill="#444444">2038</text>
<text class="tk" x="1007.31" y="383.75" transform="rotate(0.03 1007.31 383.75)" text-anchor="middle" font-size="9.9" fill="#444444">2040</text>
<text class="tk" x="1038.24" y="383.75" transform="rotate(0.03 1038.24 383.75)" text-anchor="middle" font-size="9.9" fill="#444444">2042</text>
</g>
</svg>
</body>
</html>
